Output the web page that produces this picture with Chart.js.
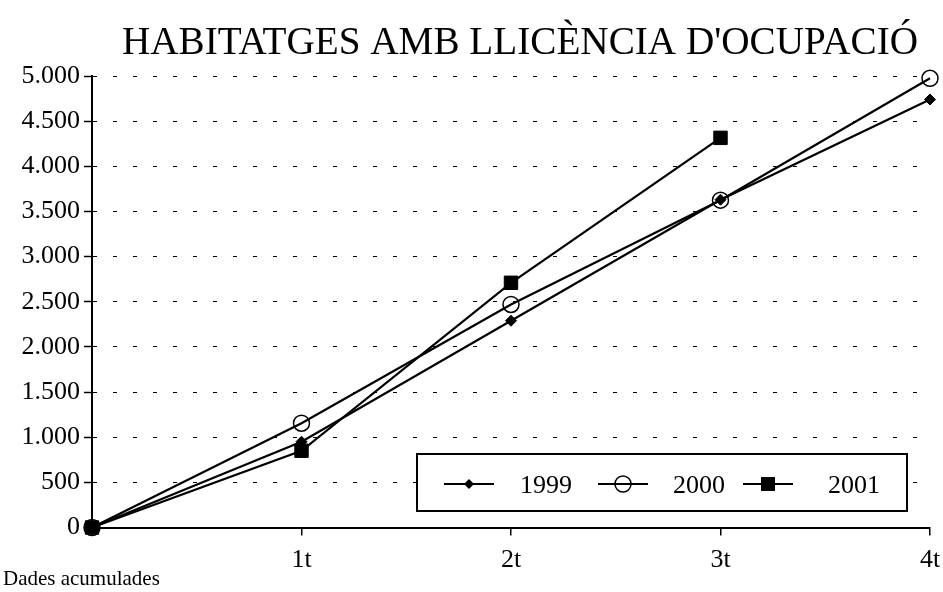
<!DOCTYPE html>
<html>
<head>
<meta charset="utf-8">
<title>Habitatges amb llicència d'ocupació</title>
<script src="https://cdn.jsdelivr.net/npm/chart.js@4.4.0/dist/chart.umd.min.js"></script>
<style>
  html, body { margin: 0; padding: 0; background: #fff; }
  #wrap { width: 943px; height: 592px; position: relative; }
</style>
</head>
<body>
<div id="wrap"><canvas id="chart"></canvas></div>
<script>
// Quarterly accumulated values
const quarters = ['', '1t', '2t', '3t', '4t'];
const values1999 = [0, 950, 2290, 3630, 4740];
const values2000 = [0, 1155, 2470, 3625, 4975];
const values2001 = [0, 850, 2710, 4315];
const yTicks = [0, 500, 1000, 1500, 2000, 2500, 3000, 3500, 4000, 4500, 5000];

const TITLE = "HABITATGES AMB LLICÈNCIA D'OCUPACIÓ";
const FONT = '"Liberation Serif", "Times New Roman", serif';

function fmt(v) {
  return String(v).replace(/\B(?=(\d{3})+(?!\d))/g, '.');
}

// title, legend box and footnote, drawn like the original
const decorations = {
  id: 'decorations',
  afterDraw(chart) {
    const ctx = chart.ctx;
    ctx.save();

    // title, a bit condensed as in the source
    ctx.font = '40px ' + FONT;
    ctx.fillStyle = '#000';
    ctx.textBaseline = 'alphabetic';
    ctx.textAlign = 'left';
    const tw = ctx.measureText(TITLE).width;
    const sx = 796 / tw;
    ctx.save();
    ctx.translate(122, 54);
    ctx.scale(sx, 1);
    ctx.fillText(TITLE, 0, 0);
    ctx.restore();

    // legend box inside the plot
    const x0 = 417, y0 = 454, w = 490, h = 57;
    ctx.fillStyle = '#fff';
    ctx.fillRect(x0, y0, w, h);
    ctx.lineWidth = 2;
    ctx.strokeStyle = '#000';
    ctx.strokeRect(x0, y0, w, h);
    const items = [
      { x: 444, tx: 520 },
      { x: 598, tx: 673 },
      { x: 743, tx: 828 }
    ];
    const cy = 484;
    chart.data.datasets.forEach((ds, i) => {
      const it = items[i];
      ctx.strokeStyle = '#000';
      ctx.lineWidth = 2.2;
      ctx.beginPath();
      ctx.moveTo(it.x, cy);
      ctx.lineTo(it.x + 50, cy);
      ctx.stroke();
      const mx = it.x + 25;
      ctx.fillStyle = '#000';
      if (ds.pointStyle === 'rectRot') {
        ctx.beginPath();
        ctx.moveTo(mx, cy - 5); ctx.lineTo(mx + 5, cy); ctx.lineTo(mx, cy + 5); ctx.lineTo(mx - 5, cy);
        ctx.closePath(); ctx.fill();
      } else if (ds.pointStyle === 'circle') {
        ctx.lineWidth = 1.5;
        ctx.beginPath(); ctx.arc(mx, cy, 8, 0, Math.PI * 2); ctx.stroke();
      } else {
        ctx.fillRect(mx - 7, cy - 7, 14, 14);
      }
      ctx.fillStyle = '#000';
      ctx.font = '26px ' + FONT;
      ctx.textBaseline = 'middle';
      ctx.textAlign = 'left';
      ctx.fillText(ds.label, it.tx, cy + 2);
    });

    // footnote
    ctx.font = '21px ' + FONT;
    ctx.textBaseline = 'alphabetic';
    ctx.fillText('Dades acumulades', 3, 585);
    ctx.restore();
  }
};

const ctx = document.getElementById('chart').getContext('2d');
new Chart(ctx, {
  type: 'line',
  data: {
    labels: quarters,
    datasets: [
      {
        label: '1999', data: values1999, clip: false,
        borderColor: '#000', backgroundColor: '#000', borderWidth: 2.2,
        pointStyle: 'rectRot', pointRadius: 5.5, pointBorderWidth: 1, tension: 0
      },
      {
        label: '2000', data: values2000, clip: false,
        borderColor: '#000', backgroundColor: 'rgba(0,0,0,0)', borderWidth: 2.2,
        pointStyle: 'circle', pointRadius: 8, pointBorderWidth: 1.5, tension: 0
      },
      {
        label: '2001', data: values2001, clip: false,
        borderColor: '#000', backgroundColor: '#000', borderWidth: 2.2,
        pointStyle: 'rect', pointRadius: 9.5, pointBorderWidth: 1, tension: 0
      }
    ]
  },
  options: {
    responsive: true,
    maintainAspectRatio: false,
    animation: false,
    layout: { padding: { left: 0, right: 13, top: 76, bottom: 0 } },
    plugins: {
      legend: { display: false },
      tooltip: { enabled: false },
      title: { display: false }
    },
    scales: {
      x: {
        offset: false,
        grid: { display: true, drawOnChartArea: false, drawTicks: true, tickLength: 8, color: '#000', lineWidth: 1.5 },
        border: { display: true, color: '#000', width: 2 },
        ticks: { color: '#000', font: { family: FONT, size: 26 }, padding: 9, maxRotation: 0, autoSkip: false },
        afterFit(scale) {
          scale.height = 64.5;
          scale.paddingRight = 0;
          scale.paddingLeft = 0;
        }
      },
      y: {
        min: 0, max: 5000,
        afterBuildTicks(scale) { scale.ticks = yTicks.map(v => ({ value: v })); },
        grid: {
          color: '#000', lineWidth: 1, drawTicks: true, tickLength: 8,
          tickBorderDash: [], tickColor: '#000', tickWidth: 1.5
        },
        border: { display: true, color: '#000', width: 2, dash: [4, 16] },
        ticks: { color: '#000', font: { family: FONT, size: 26 }, padding: 4, callback: v => fmt(v) },
        afterFit(scale) {
          scale.width = 92;
          scale.paddingTop = 0;
          scale.paddingBottom = 0;
        }
      }
    }
  },
  plugins: [decorations]
});
</script>
</body>
</html>
